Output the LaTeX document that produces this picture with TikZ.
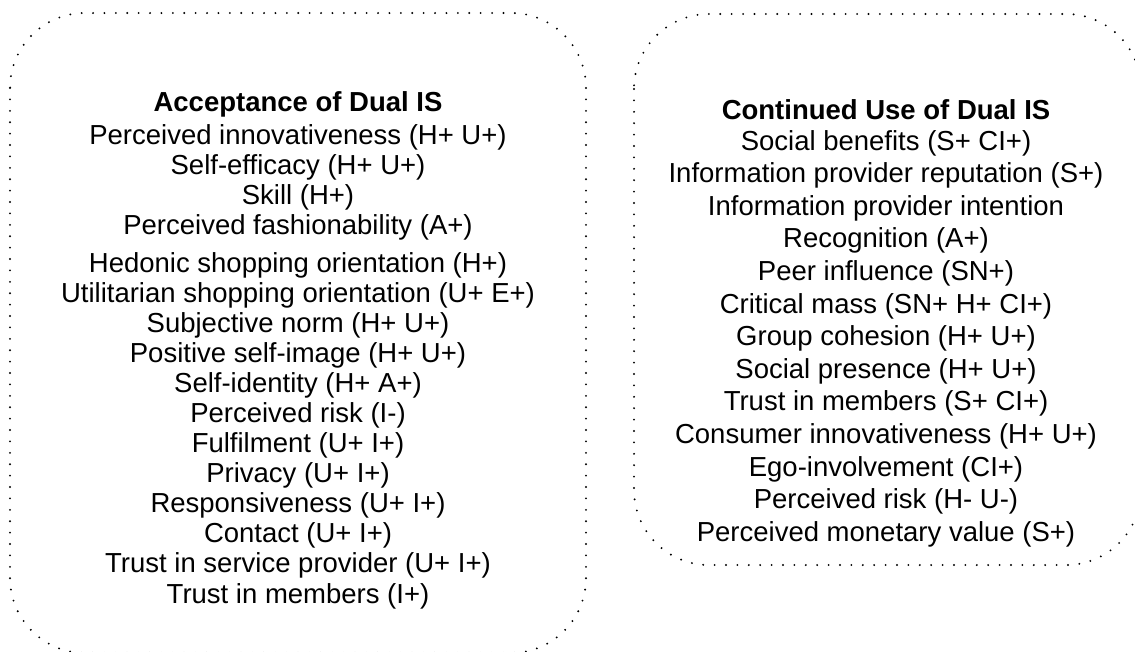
\documentclass[tikz,border=0pt]{standalone}
\usepackage{fontspec}
\setmainfont{Liberation Sans}

\begin{document}
\begin{tikzpicture}[x=1pt,y=-1pt,
    dotbox/.style={line width=2.1pt, line cap=round, dash pattern=on 0pt off 11.4pt, rounded corners=75pt},
    item/.style={font=\fontsize{27.5}{33}\selectfont, inner sep=0pt, anchor=base},
    head/.style={item, font=\fontsize{27.5}{33}\selectfont\bfseries}]
        \useasboundingbox (0,0) rectangle (1135,651);
        % Caixas pontilhadas
        \begin{scope}
            \clip (0,0) rectangle (1135,651);
            \draw[dotbox] (10,13) rectangle (586,653);
            \draw[dotbox] (634,14) rectangle (1141,565);
        \end{scope}
        % Aceitacao
        \node[head] (acc) at (298,111) {Acceptance of Dual IS};
        \foreach \txt [count=\i from 0] in {Perceived innovativeness (H+ U+), Self-efficacy (H+ U+), Skill (H+), Perceived fashionability (A+), Hedonic shopping orientation (H+), Utilitarian shopping orientation (U+ E+), Subjective norm (H+ U+), Positive self-image (H+ U+), Self-identity (H+ A+), Perceived risk (I-), Fulfilment (U+ I+), Privacy (U+ I+), Responsiveness (U+ I+), Contact (U+ I+), Trust in service provider (U+ I+), Trust in members (I+)}{
            \pgfmathsetmacro\yy{144+30.07*\i+(\i>3)*8}
            \node[item] (acc\i) at (298,\yy) {\txt};
        }
        % Uso continuado
        \node[head] (cont) at (886,119) {Continued Use of Dual IS};
        \foreach \txt [count=\i from 0] in {Social benefits (S+ CI+), Information provider reputation (S+), Information provider intention, Recognition (A+), Peer influence (SN+), Critical mass (SN+ H+ CI+), Group cohesion (H+ U+), Social presence (H+ U+), Trust in members (S+ CI+), Consumer innovativeness (H+ U+), Ego-involvement (CI+), Perceived risk (H- U-), Perceived monetary value (S+)}{
            \pgfmathsetmacro\yy{150+32.6*\i}
            \node[item] (cont\i) at (886,\yy) {\txt};
        }
    \end{tikzpicture}
\end{document}
